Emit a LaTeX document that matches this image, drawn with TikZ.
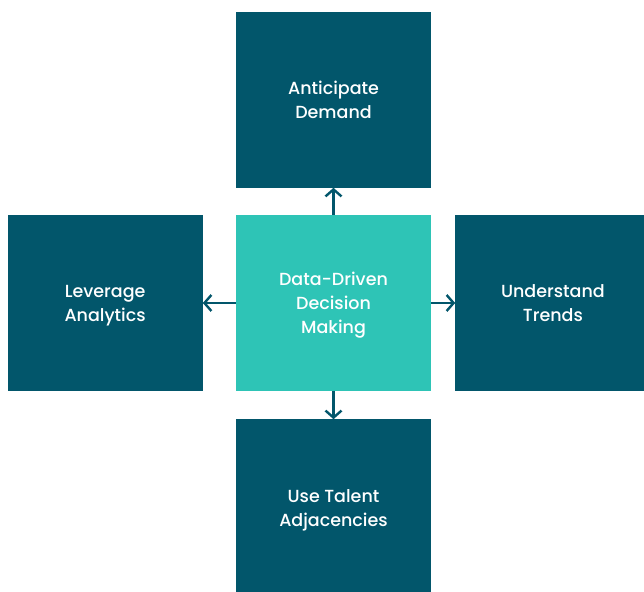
\documentclass[tikz,border=0pt]{standalone}
\usepackage{fontspec}
\setmainfont{Poppins}[UprightFont=* Medium]
\usetikzlibrary{positioning,arrows.meta}
\definecolor{darkteal}{HTML}{02566B}
\definecolor{mint}{HTML}{2EC4B6}
\newcommand\boxtext[1]{\begin{tabular}{@{}c@{}}\rule{0pt}{21pt}#1\end{tabular}}

\begin{document}
\begin{tikzpicture}[x=1pt,y=-1pt,
  box/.style={minimum width=195pt,minimum height=176pt,inner sep=0pt,
    text=white,font=\fontsize{17.5}{24}\selectfont},
  outerbox/.style={box,fill=darkteal},
  arr/.style={-{Straight Barb[length=7pt,width=16pt]},line width=2.4pt,draw=darkteal}]
\useasboundingbox (0,0) rectangle (644,591);

% Center
\node[box,fill=mint] (core) at (333.5,303) {\boxtext{Data-Driven\\Decision\\Making}};

% Around
\node[outerbox,above=27pt of core] (demand) {\boxtext{Anticipate\\Demand}};
\node[outerbox,left=33pt of core] (analytics) {\boxtext{Leverage\\Analytics}};
\node[outerbox,right=24pt of core] (trends) {\boxtext{Understand\\Trends}};
\node[outerbox,below=28pt of core] (talent) {\boxtext{Use Talent\\Adjacencies}};

% Arrows
\draw[arr] (core) -- (demand);
\draw[arr] (core) -- (analytics);
\draw[arr] (core) -- (trends);
\draw[arr] (core) -- (talent);
\end{tikzpicture}
\end{document}
